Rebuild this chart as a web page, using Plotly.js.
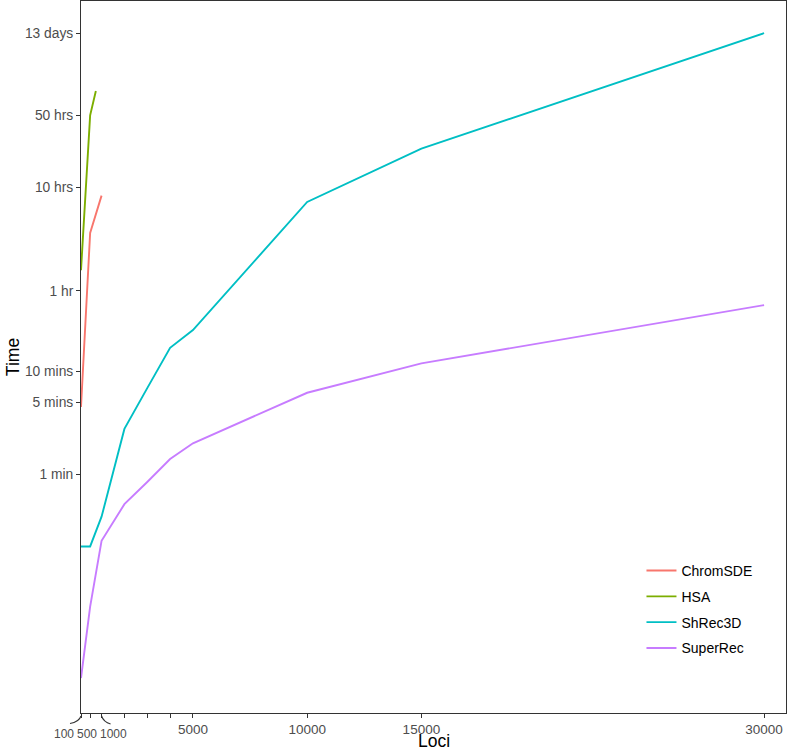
<!DOCTYPE html>
<html>
<head>
<meta charset="utf-8">
<script src="https://cdn.plot.ly/plotly-3.0.1.min.js"></script>
<style>
  html, body { margin: 0; padding: 0; background: #ffffff; }
  #chart { width: 787px; height: 752px; }
</style>
</head>
<body>
<div id="chart"></div>
<script>
// ---- data (time in seconds) ----
const loci = [100, 500, 1000, 2000, 3000, 4000, 5000, 10000, 15000, 30000];

const chromSDE_loci = [100, 500, 1000];
const chromSDE_time = [269, 13050, 30000];

const hsa_loci = [100, 500, 750];
const hsa_time = [5690, 179600, 308600];

const shrec3d_time = [12, 12, 23.3, 165, 410, 1007, 1494, 26040, 85540, 1123200];
const superRec_time = [0.637, 3.14, 13.6, 30.8, 50.5, 84.4, 119.7, 369.5, 711.6, 2608];

const seriesNames = ["ChromSDE", "HSA", "ShRec3D", "SuperRec"];
const seriesColors = ["#F8766D", "#7CAE00", "#00BFC4", "#C77CFF"];

// axis titles
const xTitle = "Loci";
const yTitle = "Time";

// y ticks
const yTickVals = [60, 300, 600, 3600, 36000, 180000, 1123200];
const yTickText = ["1 min", "5 mins", "10 mins", "1 hr", "10 hrs", "50 hrs", "13 days"];

// x ticks
const xTickVals = [100, 500, 1000, 2000, 3000, 4000, 5000, 10000, 15000, 30000];
const xTickText = ["", "", "", "", "", "", "5000", "10000", "15000", "30000"];
// small tick labels drawn below with leader lines
const xSmallVals = [100, 500, 1000];
const xSmallText = ["100", "500", "1000"];

const xRange = [100, 30960];
const yRange = [-0.534, 6.362];

const W = 787, H = 752;
const M = { l: 81, r: 1, t: 1, b: 39 };
const plotH = H - M.t - M.b;

// ---- traces ----
const xs = [chromSDE_loci, hsa_loci, loci, loci];
const ys = [chromSDE_time, hsa_time, shrec3d_time, superRec_time];
const traces = seriesNames.map((n, i) => ({
  type: "scatter",
  mode: "lines",
  name: n,
  legendgroup: n,
  x: xs[i],
  y: ys[i],
  line: { color: seriesColors[i], width: 1.9 },
  hoverinfo: "skip"
}));

const FONT = "Liberation Sans, Arial, Helvetica, sans-serif";
const AX = "#333333";

// small label styling (offsets in pixels)
const smallShift = [-17.4, -3.1, 11.7];
const leaderPaths = ["M0,-3 Q-2,-9 -11,-10.5", null, "M0,-3 Q2,-9 9,-11"];

const annotations = xSmallVals.map((v, i) => ({
  x: v, xref: "x", y: 0, yref: "paper",
  xanchor: "center", yanchor: "top",
  yshift: -12, xshift: smallShift[i],
  text: xSmallText[i], showarrow: false,
  font: { family: FONT, size: 12, color: "#4D4D4D" }
}));
// x-axis title, anchored to the bottom edge of the figure
annotations.push({
  x: 0.5, xref: "paper", y: -M.b / plotH, yref: "paper",
  xanchor: "center", yanchor: "bottom", borderpad: 0,
  text: xTitle, showarrow: false,
  font: { family: FONT, size: 17.5, color: "#000000" }
});

const toPaperX = v => (v - xRange[0]) / (xRange[1] - xRange[0]);
const shapes = [];
xSmallVals.forEach((v, i) => {
  if (!leaderPaths[i]) return;
  shapes.push({
    type: "path", xref: "paper", yref: "paper",
    xsizemode: "pixel", ysizemode: "pixel",
    xanchor: toPaperX(v), yanchor: 0,
    path: leaderPaths[i],
    line: { color: AX, width: 1.1 }
  });
});

const layout = {
  width: W, height: H,
  margin: M,
  paper_bgcolor: "#ffffff",
  plot_bgcolor: "#ffffff",
  font: { family: FONT, color: "#000000" },
  showlegend: true,
  legend: {
    x: 0.795, xanchor: "left",
    y: 0.222, yanchor: "top",
    bgcolor: "rgba(0,0,0,0)",
    font: { family: FONT, size: 14, color: "#000000" },
    tracegroupgap: 4.6,
    itemwidth: 30
  },
  xaxis: {
    type: "linear",
    range: xRange,
    tickmode: "array",
    tickvals: xTickVals,
    ticktext: xTickText,
    ticks: "outside", ticklen: 4, tickwidth: 1, tickcolor: AX,
    showline: true, linecolor: AX, linewidth: 1, mirror: true,
    showgrid: false, zeroline: false,
    tickfont: { family: FONT, size: 13.5, color: "#4D4D4D" }
  },
  yaxis: {
    type: "log",
    range: yRange,
    tickmode: "array",
    tickvals: yTickVals,
    ticktext: yTickText,
    ticks: "outside", ticklen: 4, tickwidth: 1, tickcolor: AX,
    showline: true, linecolor: AX, linewidth: 1, mirror: true,
    showgrid: false, zeroline: false,
    tickfont: { family: FONT, size: 13.8, color: "#4D4D4D" },
    title: { text: yTitle, font: { family: FONT, size: 17.5, color: "#000000" } }
  },
  annotations: annotations,
  shapes: shapes
};

Plotly.newPlot("chart", traces, layout, { staticPlot: true, displayModeBar: false });
</script>
</body>
</html>
